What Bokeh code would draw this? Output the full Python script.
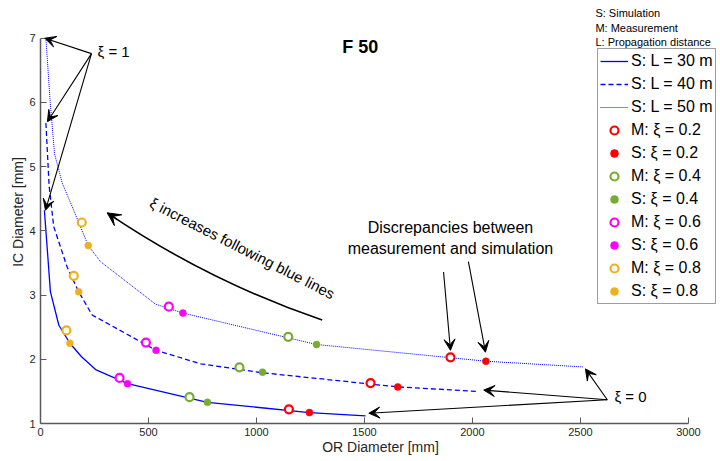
import math
from bokeh.plotting import figure
from bokeh.models import Range1d, Label, Arrow, VeeHead, FixedTicker
from bokeh.embed import file_html
from bokeh.resources import INLINE

# ---- data ----
# simulated curves (OR diameter [mm], IC diameter [mm])
l30_x = [18, 46, 85, 136, 190, 255, 403, 773, 1245, 1505]
l30_y = [4.32, 3.05, 2.53, 2.25, 2.04, 1.84, 1.62, 1.33, 1.17, 1.12]
l40_x = [25, 40, 61, 123, 177, 239, 535, 741, 1028, 1654, 2022]
l40_y = [5.68, 4.7, 4.07, 3.44, 3.05, 2.69, 2.14, 1.93, 1.79, 1.57, 1.50]
l50_x = [25, 45, 65, 100, 150, 221, 278, 532, 659, 1278, 2062, 2515]
l50_y = [7.0, 6.0, 5.2, 4.75, 4.35, 3.77, 3.52, 2.86, 2.72, 2.23, 1.97, 1.88]

# measurement (M) and simulation (S) points per xi
m02_x = [1150, 1528, 1898]; m02_y = [1.22, 1.63, 2.03]
s02_x = [1245, 1654, 2062]; s02_y = [1.17, 1.57, 1.97]
m04_x = [690, 921, 1147];   m04_y = [1.41, 1.875, 2.35]
s04_x = [773, 1028, 1278];  s04_y = [1.33, 1.80, 2.23]
m06_x = [366, 488, 594];    m06_y = [1.71, 2.26, 2.82]
s06_x = [403, 535, 659];    s06_y = [1.62, 2.14, 2.72]
m08_x = [120, 154, 191];    m08_y = [2.45, 3.30, 4.13]
s08_x = [136, 177, 221];    s08_y = [2.25, 3.05, 3.77]

x_ticks = [0, 500, 1000, 1500, 2000, 2500, 3000]
y_ticks = [1, 2, 3, 4, 5, 6, 7]

FONT = "Liberation Sans"
TXT = "#262626"

# frame spans the full width/height right of / above the axes so that the legend and
# notes are not clipped; the axes themselves are bounded to 0..3000 and 1..7
PX_X = 648 / 3000.0      # px per mm on the x axis
PX_Y = 385.3 / 6.0       # px per mm on the y axis
p = figure(width=720, height=461,
           x_range=Range1d(0, 680 / PX_X), y_range=Range1d(1, 1 + 423 / PX_Y),
           output_backend="svg", toolbar_location=None,
           min_border_left=40, min_border_right=0, min_border_top=0, min_border_bottom=38)
p.outline_line_color = None
p.grid.visible = False
p.background_fill_color = "white"
p.border_fill_color = "white"

for ax in (p.xaxis[0], p.yaxis[0]):
    ax.axis_line_color = "#5a5a5a"
    ax.axis_line_width = 1.5
    ax.major_tick_line_color = "#5a5a5a"
    ax.major_tick_in = 6
    ax.major_tick_out = 0
    ax.minor_tick_line_color = None
    ax.major_label_text_font = FONT
    ax.major_label_text_font_size = "11px"
    ax.major_label_text_color = TXT
    ax.major_label_text_line_height = 1.0
    ax.axis_label_text_font = FONT
    ax.axis_label_text_font_size = "14px"
    ax.axis_label_text_font_style = "normal"
    ax.axis_label_text_color = TXT
    ax.axis_label_text_line_height = 1.0

p.xaxis.bounds = (0, 3000)
p.yaxis.bounds = (1, 7)
p.xaxis.ticker = FixedTicker(ticks=x_ticks)
p.yaxis.ticker = FixedTicker(ticks=y_ticks)
p.xaxis.axis_label = "OR Diameter [mm]"
p.yaxis.axis_label = "IC Diameter [mm]"
p.xaxis.major_label_standoff = 4
p.xaxis.axis_label_standoff = 0
p.yaxis.major_label_standoff = 5
p.yaxis.axis_label_standoff = 0

BLUE = "#0000FF"
p.line(l30_x, l30_y, color=BLUE, line_width=1.3, legend_label="S: L = 30 m")
p.line(l40_x, l40_y, color=BLUE, line_width=1.3, line_dash="5 3", legend_label="S: L = 40 m")
p.line(l50_x, l50_y, color=BLUE, line_width=1.0, line_dash="1 1", legend_label="S: L = 50 m")

cols = {"0.2": "#FF0000", "0.4": "#77AC30", "0.6": "#FF00FF", "0.8": "#EDB120"}
series = [("0.2", m02_x, m02_y, s02_x, s02_y), ("0.4", m04_x, m04_y, s04_x, s04_y),
          ("0.6", m06_x, m06_y, s06_x, s06_y), ("0.8", m08_x, m08_y, s08_x, s08_y)]
for xi, mx, my, sx, sy in series:
    c = cols[xi]
    p.scatter(mx, my, size=8, fill_color="white", line_color=c, line_width=2.2,
              legend_label="M: \u03be = " + xi)
    p.scatter(sx, sy, size=7, fill_color=c, line_color=c, line_width=0.5,
              legend_label="S: \u03be = " + xi)

lg = p.legend[0]
lg.location = (557, 119)
lg.label_text_font = FONT
lg.label_text_font_size = "16px"
lg.label_text_color = "black"
lg.glyph_width = 28
lg.glyph_height = 20
lg.label_height = 20
lg.label_standoff = 3
lg.spacing = 3
lg.padding = 2
lg.margin = 0
lg.border_line_color = "#3c3c3c"
lg.border_line_width = 1
lg.background_fill_alpha = 1.0


def arrow(x0, y0, x1, y1, size=11):
    p.add_layout(Arrow(x_start=x0, y_start=y0, x_end=x1, y_end=y1, line_color="black",
                       line_width=1.1,
                       end=VeeHead(size=size, fill_color="black", line_color="black", line_width=1)))


def label(x, y, text, size, align="left", angle=0.0, style="normal", color="black"):
    p.add_layout(Label(x=x, y=y, text=text, text_font=FONT, text_font_size=size,
                       text_align=align, text_baseline="middle", angle=angle,
                       text_font_style=style, text_color=color))


# xi = 1 arrows
for tx, ty in [(20, 7.0), (32, 5.70), (23, 4.32)]:
    arrow(236, 6.76, tx, ty)
label(264, 6.80, "\u03be = 1", "15px")

# xi = 0 arrows
for tx, ty in [(2523, 1.85), (2052, 1.52), (1520, 1.16)]:
    arrow(2624, 1.37, tx, ty)
label(2657, 1.42, "\u03be = 0", "15px")

# discrepancies
arrow(1866, 3.36, 1898, 2.14)
arrow(1981, 3.52, 2060, 2.11)
label(1898, 4.05, "Discrepancies between", "16px", align="center")
label(1898, 3.72, "measurement and simulation", "16px", align="center")

# curved arrow
p.quadratic(x0=[1304], y0=[2.61], x1=[309], y1=[4.28], cx=[774], cy=[3.22],
            line_color="black", line_width=1.6)
arrow(355.5, 4.174, 309, 4.28, size=13)
label(935, 3.73, "\u03be increases following blue lines", "15px", align="center",
      angle=-27 * math.pi / 180)

# title and notes
label(1480, 6.86, "F 50", "18px", align="center", style="bold")
label(2569, 7.39, "S: Simulation", "11px")
label(2569, 7.16, "M: Measurement", "11px")
label(2569, 6.94, "L: Propagation distance", "11px")

open("out.html", "w").write(file_html(p, INLINE))
